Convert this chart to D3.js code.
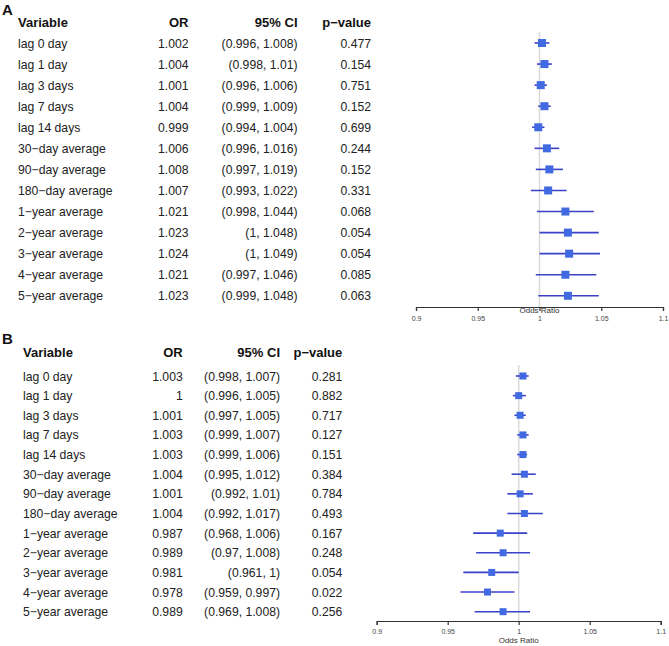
<!DOCTYPE html>
<html>
<head>
<meta charset="utf-8">
<script src="https://cdn.jsdelivr.net/npm/d3@7"></script>
<style>
  body { margin: 0; background: #fff; }
  svg { display: block; font-family: "Liberation Sans", Arial, sans-serif; }
</style>
</head>
<body>
<svg id="chart" width="669" height="646"></svg>
<script>
// rows shared by both panels
const variables = ['lag 0 day', 'lag 1 day', 'lag 3 days', 'lag 7 days', 'lag 14 days',
  '30\u2212day average', '90\u2212day average', '180\u2212day average',
  '1\u2212year average', '2\u2212year average', '3\u2212year average',
  '4\u2212year average', '5\u2212year average'];

// panel A
const orA = [1.002, 1.004, 1.001, 1.004, 0.999, 1.006, 1.008, 1.007, 1.021, 1.023, 1.024, 1.021, 1.023];
const lowA = [0.996, 0.998, 0.996, 0.999, 0.994, 0.996, 0.997, 0.993, 0.998, 1, 1, 0.997, 0.999];
const highA = [1.008, 1.01, 1.006, 1.009, 1.004, 1.016, 1.019, 1.022, 1.044, 1.048, 1.049, 1.046, 1.048];
const pA = ['0.477', '0.154', '0.751', '0.152', '0.699', '0.244', '0.152', '0.331', '0.068', '0.054', '0.054', '0.085', '0.063'];

// panel B
const orB = [1.003, 1, 1.001, 1.003, 1.003, 1.004, 1.001, 1.004, 0.987, 0.989, 0.981, 0.978, 0.989];
const lowB = [0.998, 0.996, 0.997, 0.999, 0.999, 0.995, 0.992, 0.992, 0.968, 0.97, 0.961, 0.959, 0.969];
const highB = [1.007, 1.005, 1.005, 1.007, 1.006, 1.012, 1.01, 1.017, 1.006, 1.008, 1, 0.997, 1.008];
const pB = ['0.281', '0.882', '0.717', '0.127', '0.151', '0.384', '0.784', '0.493', '0.167', '0.248', '0.054', '0.022', '0.256'];

const axisTicks = [0.9, 0.95, 1, 1.05, 1.1];

const svg = d3.select('#chart');

function drawPanel(cfg, or, low, high, p) {
  const rows = variables.map((v, i) => ({ v, or: or[i], low: low[i], high: high[i], p: p[i] }));
  const g = svg.append('g');

  const y = d3.scalePoint().domain(variables).range([cfg.y0, cfg.y1]);
  const x = d3.scaleLinear().domain([0.9, 1.1]).range([cfg.x0, cfg.x1]);

  g.append('text')
    .attr('x', cfg.labelX).attr('y', cfg.labelY)
    .attr('font-size', 15).attr('font-weight', 'bold').attr('fill', '#111')
    .text(cfg.label);

  // table header
  const head = g.append('g')
    .attr('font-size', 13).attr('font-weight', 'bold').attr('fill', '#111');
  head.append('text').attr('x', cfg.colVar).attr('y', cfg.headY).text('Variable');
  head.append('text').attr('x', cfg.colOR).attr('y', cfg.headY).attr('text-anchor', 'end').text('OR');
  head.append('text').attr('x', cfg.colCI).attr('y', cfg.headY).attr('text-anchor', 'end').text('95% CI');
  head.append('text').attr('x', cfg.colP).attr('y', cfg.headY).attr('text-anchor', 'end').text('p\u2212value');

  // table body
  const body = g.append('g').attr('font-size', 12.2).attr('fill', '#222');
  const rowG = body.selectAll('g.row')
    .data(rows)
    .enter().append('g')
    .attr('class', 'row')
    .attr('transform', d => 'translate(0,' + (y(d.v) + 4.5) + ')');
  rowG.append('text').attr('x', cfg.colVar).text(d => d.v);
  rowG.append('text').attr('x', cfg.colOR).attr('text-anchor', 'end').text(d => String(d.or));
  rowG.append('text').attr('x', cfg.colCI).attr('text-anchor', 'end')
    .text(d => '(' + d.low + ', ' + d.high + ')');
  rowG.append('text').attr('x', cfg.colP).attr('text-anchor', 'end').text(d => d.p);

  // reference line at OR = 1
  g.append('line')
    .attr('x1', x(1)).attr('x2', x(1))
    .attr('y1', cfg.refTop).attr('y2', cfg.axisY)
    .attr('stroke', '#d9d9d9').attr('stroke-width', 1.5);

  // CI whiskers
  g.append('g').selectAll('line')
    .data(rows)
    .enter().append('line')
    .attr('x1', d => x(d.low)).attr('x2', d => x(d.high))
    .attr('y1', d => y(d.v)).attr('y2', d => y(d.v))
    .attr('stroke', '#3a42c8').attr('stroke-width', 1.6);

  // point estimates
  g.append('g').selectAll('rect')
    .data(rows)
    .enter().append('rect')
    .attr('x', d => x(d.or) - cfg.box / 2)
    .attr('y', d => y(d.v) - cfg.box / 2)
    .attr('width', cfg.box).attr('height', cfg.box)
    .attr('fill', '#4169e1');

  // x axis
  const ax = g.append('g')
    .attr('transform', 'translate(0,' + cfg.axisY + ')')
    .call(d3.axisBottom(x).tickValues(axisTicks).tickFormat(d => String(d)).tickSize(4).tickPadding(cfg.tickPad));
  ax.select('.domain').attr('stroke', '#333').attr('stroke-width', 1.2);
  ax.selectAll('.tick line').attr('stroke', '#333').attr('stroke-width', 1.2);
  ax.selectAll('.tick text').attr('font-size', 7).attr('fill', '#444')
    .attr('font-family', '"Liberation Sans", Arial, sans-serif');

  g.append('text')
    .attr('x', x(1)).attr('y', cfg.titleY)
    .attr('text-anchor', 'middle').attr('font-size', 8).attr('fill', '#333')
    .text('Odds Ratio');
}

drawPanel({
  label: 'A', labelX: 2, labelY: 15,
  headY: 27, colVar: 18, colOR: 188.5, colCI: 297.5, colP: 371,
  y0: 43, y1: 295.8, x0: 416, x1: 663,
  refTop: 32, axisY: 307, titleY: 312.5, tickPad: 5, box: 8
}, orA, lowA, highA, pA);

drawPanel({
  label: 'B', labelX: 2, labelY: 344,
  headY: 357, colVar: 23, colOR: 182.7, colCI: 280, colP: 342.3,
  y0: 376, y1: 611.7, x0: 376.7, x1: 660.7,
  refTop: 365, axisY: 621, titleY: 642.5, tickPad: 4, box: 7
}, orB, lowB, highB, pB);
</script>
</body>
</html>
